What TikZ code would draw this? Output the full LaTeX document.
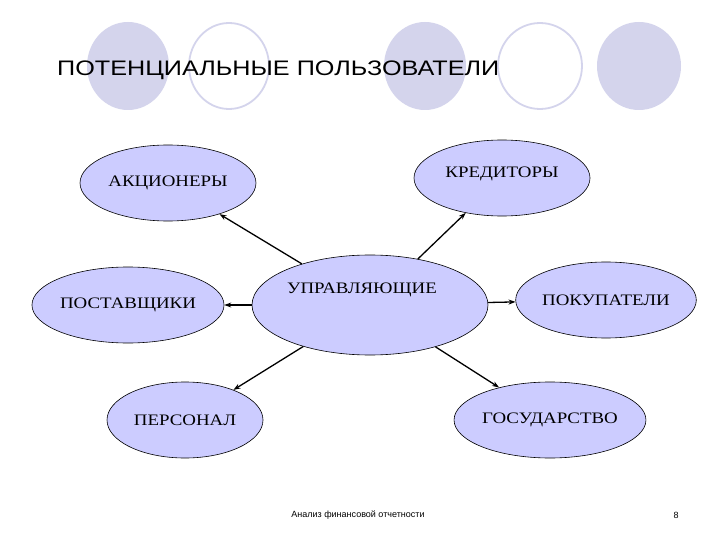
\documentclass[tikz,border=0pt]{standalone}
\usepackage{graphicx}
\usepackage{fontspec}
\setmainfont{Liberation Serif}
\newfontfamily\arialf{Liberation Sans}
\usetikzlibrary{shapes.geometric,arrows.meta}
\definecolor{lav}{RGB}{204,204,255}
\definecolor{deco}{RGB}{212,212,236}
\newcommand{\wtxt}[1]{\scalebox{1.18}[1]{#1}}
\tikzset{
  ov/.style={ellipse,draw=black,fill=lav,line width=0.6pt,inner sep=0pt,font=\fontsize{16}{16}\selectfont},
  lbl/.style={font=\fontsize{16}{16}\selectfont},
  conn/.style={-{Stealth[length=7pt,width=5pt]},line width=1.3pt},
  dfill/.style={fill=deco},
  dring/.style={draw=deco,line width=1.8pt,fill=white}
}
\begin{document}
\begin{tikzpicture}[x=1pt,y=-1pt]
\useasboundingbox (0,0) rectangle (720,540);
\fill[white] (0,0) rectangle (720,540);
\path[dfill] (128,66) ellipse [x radius=41,y radius=44];
\path[dring] (229,66) ellipse [x radius=40,y radius=43];
\path[dfill] (425,66) ellipse [x radius=41,y radius=44];
\path[dring] (540,66) ellipse [x radius=42,y radius=43];
\path[dfill] (639,66) ellipse [x radius=42,y radius=44];
\node[anchor=base west,inner sep=0pt,font=\arialf\fontsize{21}{21}\selectfont] (title) at (57,76) {\scalebox{1.2}[1]{ПОТЕНЦИАЛЬНЫЕ ПОЛЬЗОВАТЕЛИ}};

\node[ov,minimum width=176,minimum height=76] (a) at (168,183) {\wtxt{АКЦИОНЕРЫ}};
\node[ov,minimum width=176,minimum height=76] (k) at (502,178) {};
\node[lbl] (kt) at (502,174) {\wtxt{КРЕДИТОРЫ}};
\node[ov,minimum width=236,minimum height=100] (u) at (370,305) {};
\node[lbl] (ut) at (362,290) {\wtxt{УПРАВЛЯЮЩИЕ}};
\node[ov,minimum width=180,minimum height=76] (p) at (128,305) {\wtxt{ПОСТАВЩИКИ}};
\node[ov,minimum width=172,minimum height=76] (b) at (606,300) {\wtxt{ПОКУПАТЕЛИ}};
\node[ov,minimum width=156,minimum height=76] (s) at (185,420) {\wtxt{ПЕРСОНАЛ}};
\node[ov,minimum width=160,minimum height=76] (g) at (550,420) {\wtxt{ГОСУДАРСТВО}};

\draw[conn] (u) -- (a);
\draw[conn] (u) -- (k);
\draw[conn] (u) -- (p);
\draw[conn] (u) -- (b);
\draw[conn] (u) -- (s);
\draw[conn] (u) -- (g);

\node[font=\arialf\fontsize{9}{9}\selectfont] (f) at (358,515) {Анализ финансовой отчетности};
\node[font=\arialf\fontsize{9}{9}\selectfont] (n) at (676,515) {8};
\end{tikzpicture}
\end{document}
